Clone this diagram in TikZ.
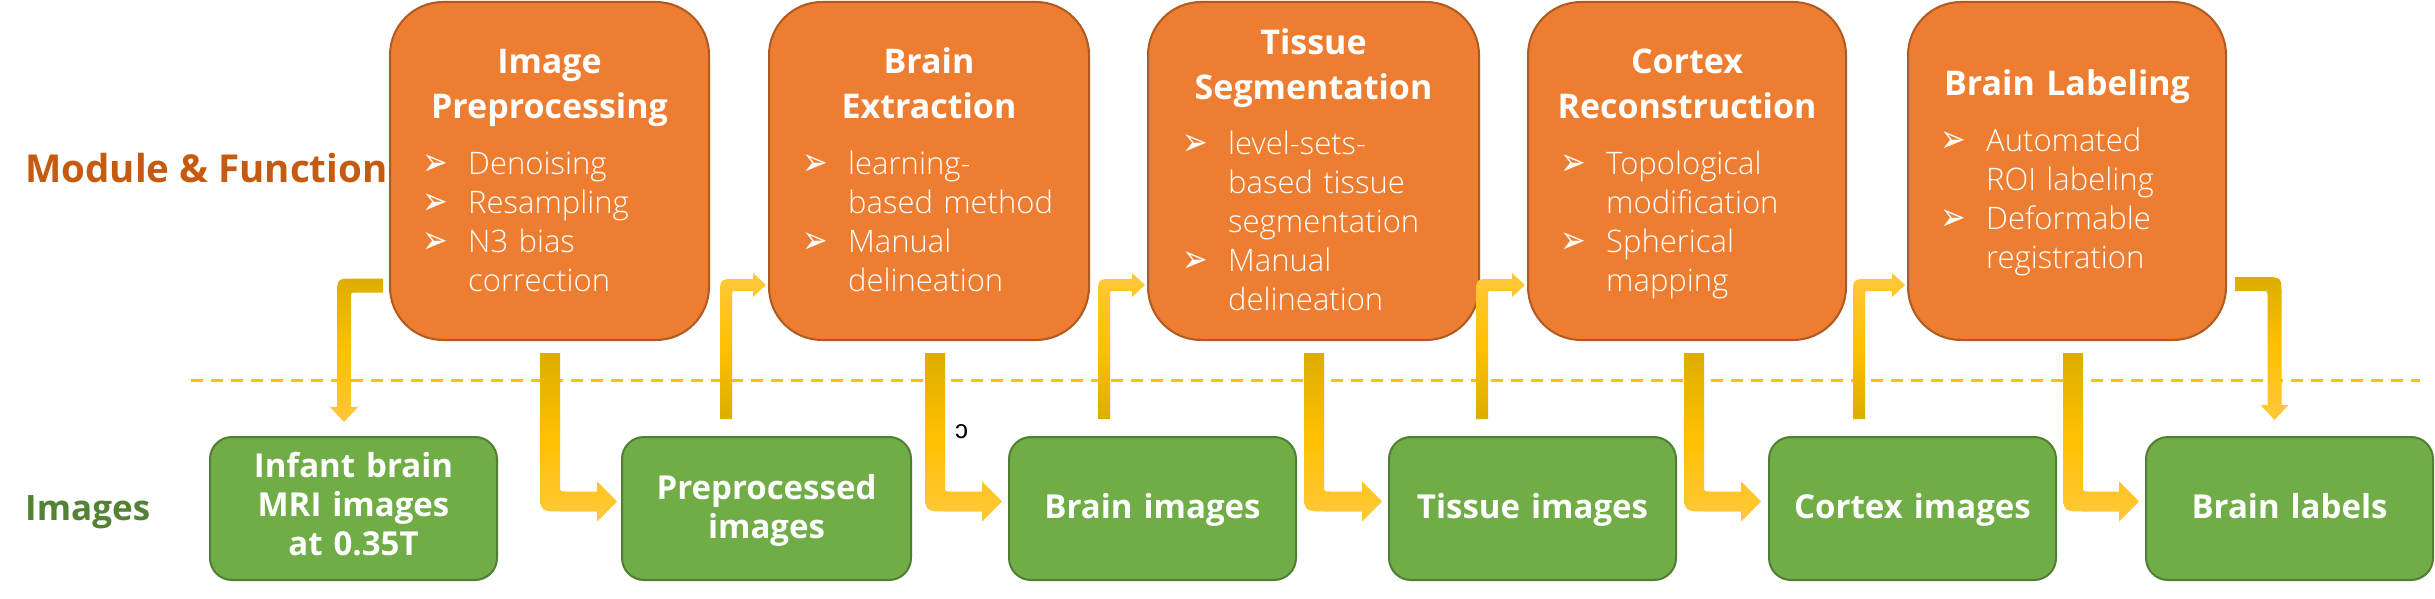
\documentclass[tikz,border=0pt]{standalone}
\usepackage{fontspec}
\setmainfont{Open Sans}
\IfFontExistsTF{Open Sans Light}{\newfontfamily\lightfont{Open Sans Light}}{\newfontfamily\lightfont{Open Sans}}
\newfontfamily\dejavu{DejaVu Sans}
\newfontfamily\libsans{Liberation Sans}
\usetikzlibrary{calc}
\definecolor{ofill}{HTML}{ED7D31}
\definecolor{oline}{HTML}{AE5A21}
\definecolor{gfill}{HTML}{70AD47}
\definecolor{gline}{HTML}{507E32}
\definecolor{lblorange}{HTML}{C55A11}
\definecolor{lblgreen}{HTML}{548235}
\definecolor{gold}{HTML}{FFC000}
\definecolor{golddark}{HTML}{DCAE00}
\definecolor{goldlight}{HTML}{FFC83C}

\newcommand{\bulsym}{{\dejavu\fontsize{34}{39}\selectfont\raisebox{-1pt}{\scalebox{0.9}[1.15]{➢}}}}
\newcommand{\bitem}[1]{\hangindent=46pt\hangafter=1\noindent\makebox[46pt][l]{\bulsym}#1\par}

% thick arrow: down, then right
\newcommand{\ThickArrow}[2]{%
\shade[thickshade] let \p1=#1, \p2=#2 in
 (\x1-10pt,\y1) -- (\x1-10pt,\y2+12pt) .. controls (\x1-10pt,\y2-10pt) .. (\x1+12pt,\y2-10pt)
 -- (\x2-20pt,\y2-10pt) -- (\x2-20pt,\y2-20pt) -- (\x2,\y2) -- (\x2-20pt,\y2+20pt) -- (\x2-20pt,\y2+10pt)
 -- (\x1+16pt,\y2+10pt) .. controls (\x1+10pt,\y2+10pt) .. (\x1+10pt,\y2+16pt) -- (\x1+10pt,\y1) -- cycle;}
% thin arrow: up, then right
\newcommand{\UpArrow}[2]{%
\shade[upshade] let \p1=#1, \p2=#2 in
 (\x1-6pt,\y1) -- (\x1-6pt,\y2-10pt) .. controls (\x1-6pt,\y2+6pt) .. (\x1+10pt,\y2+6pt)
 -- (\x2-13pt,\y2+6pt) -- (\x2-13pt,\y2+12pt) -- (\x2,\y2) -- (\x2-13pt,\y2-12pt) -- (\x2-13pt,\y2-6pt)
 -- (\x1+10pt,\y2-6pt) .. controls (\x1+6pt,\y2-6pt) .. (\x1+6pt,\y2-10pt) -- (\x1+6pt,\y1) -- cycle;}
% thin arrow: left, then down
\newcommand{\LeftDownArrow}[2]{%
\shade[thickshade] let \p1=#1, \p2=#2 in
 (\x1,\y1+7pt) -- (\x2+11pt,\y1+7pt) .. controls (\x2-7pt,\y1+7pt) .. (\x2-7pt,\y1-11pt)
 -- (\x2-7pt,\y2+15pt) -- (\x2-14pt,\y2+15pt) -- (\x2,\y2) -- (\x2+14pt,\y2+15pt) -- (\x2+7pt,\y2+15pt)
 -- (\x2+7pt,\y1-12pt) .. controls (\x2+7pt,\y1-7pt) .. (\x2+12pt,\y1-7pt) -- (\x1,\y1-7pt) -- cycle;}
% thin arrow: right, then down
\newcommand{\RightDownArrow}[2]{%
\shade[thickshade] let \p1=#1, \p2=#2 in
 (\x1,\y1+7pt) -- (\x2-11pt,\y1+7pt) .. controls (\x2+7pt,\y1+7pt) .. (\x2+7pt,\y1-11pt)
 -- (\x2+7pt,\y2+15pt) -- (\x2+14pt,\y2+15pt) -- (\x2,\y2) -- (\x2-14pt,\y2+15pt) -- (\x2-7pt,\y2+15pt)
 -- (\x2-7pt,\y1-12pt) .. controls (\x2-7pt,\y1-7pt) .. (\x2-12pt,\y1-7pt) -- (\x1,\y1-7pt) -- cycle;}

\begin{document}
\begin{tikzpicture}[x=1pt,y=1pt,
  obox/.style={draw=oline, fill=ofill, line width=2pt, rounded corners=53pt, minimum height=338pt, inner sep=0pt},
  gbox/.style={draw=gline, fill=gfill, line width=2pt, rounded corners=22pt, minimum height=143pt, inner sep=0pt},
  gtext/.style={text=white, font=\fontsize{33}{39}\selectfont\bfseries, text width=300pt, align=center, anchor=base, inner sep=0pt},
  otitle/.style={text=white, font=\fontsize{34}{45}\selectfont\bfseries, text width=340pt, align=center, anchor=base, inner sep=0pt},
  olist/.style={text=white, font=\lightfont\fontsize{31}{39}\selectfont, text width=300pt, align=left, anchor=base west, inner sep=0pt},
  rowlabel/.style={font=\bfseries, anchor=base west, inner sep=0pt},
  dashline/.style={draw=gold, line width=3pt, dash pattern=on 12pt off 8pt},
  thickshade/.style={top color=golddark, bottom color=goldlight, middle color=gold},
  upshade/.style={top color=goldlight, bottom color=golddark, middle color=gold},
  straytext/.style={font=\libsans\fontsize{26}{30}\selectfont, anchor=base west, inner sep=0pt}
]
\fill[white] (0,0) rectangle (2435,598);
\useasboundingbox (0,0) rectangle (2435,598);

% separator
\coordinate (dl) at (191,218);
\coordinate (dr) at (2420,218);
\draw[dashline] (dl) -- (dr);

% module boxes
\node[obox, minimum width=319pt] (b1) at (549.5,427) {};
\node[obox, minimum width=320pt] (b2) at (929,427) {};
\node[obox, minimum width=331pt] (b3) at (1313.5,427) {};
\node[obox, minimum width=318pt] (b4) at (1687,427) {};
\node[obox, minimum width=318pt] (b5) at (2067,427) {};

% image boxes
\node[gbox, minimum width=287pt] (g1) at (353.5,89.5) {};
\node[gbox, minimum width=289pt] (g2) at (766.5,89.5) {};
\node[gbox, minimum width=287pt] (g3) at (1152.5,89.5) {};
\node[gbox, minimum width=287pt] (g4) at (1532.5,89.5) {};
\node[gbox, minimum width=287pt] (g5) at (1912.5,89.5) {};
\node[gbox, minimum width=287pt] (g6) at (2289.5,89.5) {};

% arrows
\LeftDownArrow{($(b1.west)+(-6,-114.5)$)}{($(g1.north)+(-9.5,14)$)}
\ThickArrow{($(b1.south)+(0.5,-12)$)}{($(g2.west)+(-4,7)$)}
\UpArrow{($(g2.north)+(-40.5,17)$)}{($(b2.west)+(-2,-114)$)}
\ThickArrow{($(b2.south)+(6,-12)$)}{($(g3.west)+(-6,7)$)}
\UpArrow{($(g3.north)+(-48.5,17)$)}{($(b3.west)+(-2,-114)$)}
\ThickArrow{($(b3.south)+(0.5,-12)$)}{($(g4.west)+(-6,7)$)}
\UpArrow{($(g4.north)+(-50.5,17)$)}{($(b4.west)+(-2,-114)$)}
\ThickArrow{($(b4.south)+(7,-12)$)}{($(g5.west)+(-7,7)$)}
\UpArrow{($(g5.north)+(-53.5,17)$)}{($(b5.west)+(-2,-114)$)}
\ThickArrow{($(b5.south)+(6,-12)$)}{($(g6.west)+(-6,7)$)}
\RightDownArrow{($(b5.east)+(8,-113)$)}{($(g6.north)+(-15,16)$)}

% image texts
\node[gtext] (gt1) at ($(g1)+(0,31.5)$) {Infant brain\\MRI images\\at 0.35T};
\node[gtext] (gt2) at ($(g2)+(0,9.5)$) {Preprocessed\\images};
\node[gtext] (gt3) at ($(g3)+(0,-9.5)$) {Brain images};
\node[gtext] (gt4) at ($(g4)+(0,-9.5)$) {Tissue images};
\node[gtext] (gt5) at ($(g5)+(0,-9.5)$) {Cortex images};
\node[gtext] (gt6) at ($(g6)+(0,-9.5)$) {Brain labels};

% module texts
\node[otitle] (t1) at ($(b1)+(0,97)$) {Image\\Preprocessing};
\node[olist] (l1) at ($(b1.west)+(33,-4)$) {\bitem{Denoising}\bitem{Resampling}\bitem{N3 bias\break correction}};
\node[otitle] (t2) at ($(b2)+(0,97)$) {Brain\\Extraction};
\node[olist] (l2) at ($(b2.west)+(34,-4)$) {\bitem{learning-\break based method}\bitem{Manual\break delineation}};
\node[otitle] (t3) at ($(b3)+(0,116)$) {Tissue\\Segmentation};
\node[olist] (l3) at ($(b3.west)+(35,16)$) {\bitem{level-sets-\break based tissue\break segmentation}\bitem{Manual\break delineation}};
\node[otitle] (t4) at ($(b4)+(0,97)$) {Cortex\\Reconstruction};
\node[olist] (l4) at ($(b4.west)+(33,-4)$) {\bitem{Topological\break modification}\bitem{Spherical\break mapping}};
\node[otitle] (t5) at ($(b5)+(0,75)$) {Brain Labeling};
\node[olist] (l5) at ($(b5.west)+(33,19)$) {\bitem{Automated\break ROI labeling}\bitem{Deformable\break registration}};

% row labels
\node[rowlabel, text=lblorange, font=\fontsize{38.5}{46}\selectfont\bfseries] (lm) at (25,415) {Module \& Function};
\node[rowlabel, text=lblgreen, font=\fontsize{35}{44}\selectfont\bfseries] (li) at (25,78) {Images};

% stray glyph
\node[straytext] (sc) at (955,160) {ɔ};
\end{tikzpicture}
\end{document}
